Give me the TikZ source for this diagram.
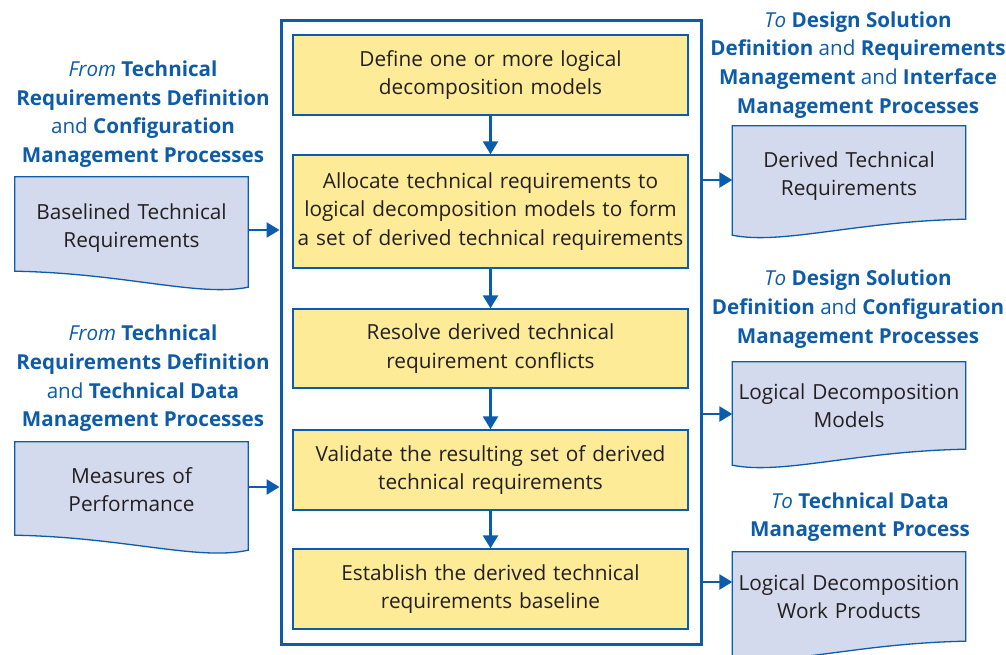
\documentclass[tikz,border=0pt]{standalone}
\usepackage{fontspec}
\setmainfont{Open Sans}
\usetikzlibrary{arrows.meta,calc}
\definecolor{nblue}{HTML}{0B5CAB}
\definecolor{lblue}{HTML}{0E5CA8}
\definecolor{byel}{HTML}{FDEB98}
\definecolor{bdoc}{HTML}{D3DAEE}
\definecolor{txt}{HTML}{231F20}
\tikzset{
  stepbox/.style={draw=nblue, line width=1.4pt, fill=byel, minimum width=395pt,
    text width=395pt, align=center, text=txt, inner sep=0pt,
    font=\fontsize{20.8}{28.5}\selectfont},
  outerbox/.style={draw=nblue, line width=3pt, minimum width=420pt, minimum height=623pt, inner sep=0pt},
  docnode/.style={minimum width=233pt, text width=233pt, align=center, text=txt, inner sep=0pt,
    font=\fontsize{20.8}{28.5}\selectfont},
  docline/.style={draw=nblue, line width=1.3pt, fill=bdoc},
  flow/.style={nblue, line width=2.6pt, -{Triangle[width=15pt,length=13pt]}},
  lbl/.style={text=lblue, align=center, inner sep=0pt, font=\fontsize{20.6}{28.7}\selectfont},
}
\newcommand{\bo}[1]{\textbf{#1}}
\begin{document}
\begin{tikzpicture}[x=1pt,y=-1pt]
\clip (0,0) rectangle (1006,655);
\fill[white] (0,0) rectangle (1006,655);

% outer box
\node[outerbox] (main) at (491,332.5) {};

% steps
\node[stepbox, minimum height=80pt] (s1) at (490.5,75) {Define one or more logical\\decomposition models};
\node[stepbox, minimum height=113pt] (s2) at (490.5,211.5) {Allocate technical requirements to\\logical decomposition models to form\\a set of derived technical requirements};
\node[stepbox, minimum height=79pt] (s3) at (490.5,348.5) {Resolve derived technical\\requirement conflicts};
\node[stepbox, minimum height=80pt] (s4) at (490.5,470) {Validate the resulting set of derived\\technical requirements};
\node[stepbox, minimum height=80pt] (s5) at (490.5,589) {Establish the derived technical\\requirements baseline};

\foreach \a/\b in {s1/s2,s2/s3,s3/s4,s4/s5}
  \draw[flow] (\a.south) -- (\b.north);

% left documents (rect part; lower-left corner is the higher one)
\node[docnode, minimum height=94pt] (bl) at (131.5,224) {};
\draw[docline] (bl.south west) -- (bl.north west) -- (bl.north east) -- ([yshift=-16pt]bl.south east)
  .. controls ([xshift=-50pt,yshift=-26pt]bl.south east) and ([xshift=110pt,yshift=-2pt]bl.south west) .. (bl.south west) -- cycle;
\node[docnode] at ([yshift=-4pt]bl.center) {Baselined Technical\\Requirements};

\node[docnode, minimum height=93pt] (mp) at (131.5,488.5) {};
\draw[docline] (mp.south west) -- (mp.north west) -- (mp.north east) -- ([yshift=-15pt]mp.south east)
  .. controls ([xshift=-50pt,yshift=-26pt]mp.south east) and ([xshift=110pt,yshift=-2pt]mp.south west) .. (mp.south west) -- cycle;
\node[docnode] at ([yshift=-1pt]mp.center) {Measures of\\Performance};

% right documents (lower-right corner is the higher one)
\node[docnode, minimum height=93pt] (dt) at (849,172.5) {};
\draw[docline] (dt.south east) -- (dt.north east) -- (dt.north west) -- ([yshift=-16pt]dt.south west)
  .. controls ([xshift=50pt,yshift=-26pt]dt.south west) and ([xshift=-110pt,yshift=-2pt]dt.south east) .. (dt.south east) -- cycle;
\node[docnode] at ([yshift=-3.5pt]dt.center) {Derived Technical\\Requirements};

\node[docnode, minimum height=87pt] (ldm) at (849,405.5) {};
\draw[docline] (ldm.south east) -- (ldm.north east) -- (ldm.north west) -- ([yshift=-16pt]ldm.south west)
  .. controls ([xshift=50pt,yshift=-26pt]ldm.south west) and ([xshift=-110pt,yshift=-2pt]ldm.south east) .. (ldm.south east) -- cycle;
\node[docnode] at (ldm.center) {Logical Decomposition\\Models};

\node[docnode, minimum height=89pt] (wp) at (849,596.5) {};
\draw[docline] (wp.south east) -- (wp.north east) -- (wp.north west) -- ([yshift=-16pt]wp.south west)
  .. controls ([xshift=50pt,yshift=-26pt]wp.south west) and ([xshift=-110pt,yshift=-2pt]wp.south east) .. (wp.south east) -- cycle;
\node[docnode] at (wp.center) {Logical Decomposition\\Work Products};

% connectors
\draw[flow] ([yshift=-6pt]bl.east) -- ([yshift=-6pt]bl.east -| main.west);
\draw[flow] ([yshift=1.5pt]mp.east) -- ([yshift=1.5pt]mp.east -| main.west);
\draw[flow] ([yshift=-7.5pt]dt.west -| main.east) -- ([yshift=-7.5pt]dt.west);
\draw[flow] ([yshift=-8.5pt]ldm.west -| main.east) -- ([yshift=-8.5pt]ldm.west);
\draw[flow] ([yshift=14.5pt]wp.west -| main.east) -- ([yshift=14.5pt]wp.west);

% labels
\node[lbl] (l1) at (143,114) {\textit{From} \bo{Technical}\\\bo{Requirements Definition}\\and \bo{Configuration}\\\bo{Management Processes}};
\node[lbl] (l2) at (143,378.5) {\textit{From} \bo{Technical}\\\bo{Requirements Definition}\\and \bo{Technical Data}\\\bo{Management Processes}};
\node[lbl] (r1) at (858,65) {\textit{To} \bo{Design Solution}\\\bo{Definition} and \bo{Requirements}\\\bo{Management} and \bo{Interface}\\\bo{Management Processes}};
\node[lbl] (r2) at (858,309) {\textit{To} \bo{Design Solution}\\\bo{Definition} and \bo{Configuration}\\\bo{Management Processes}};
\node[lbl] (r3) at (860,517) {\textit{To} \bo{Technical Data}\\\bo{Management Process}};
\end{tikzpicture}
\end{document}
